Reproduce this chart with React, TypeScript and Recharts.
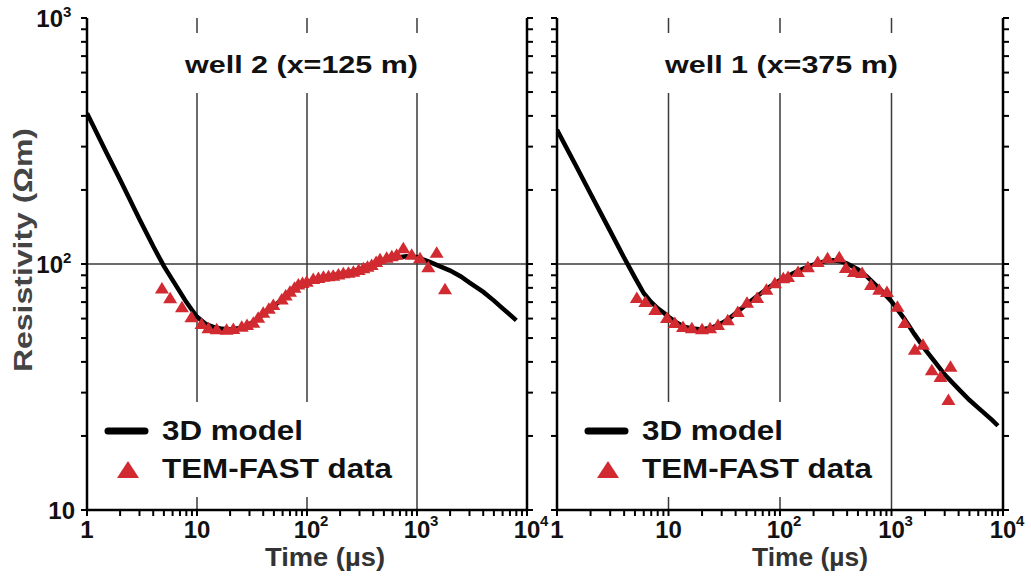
import React from 'react';
import { ComposedChart, Line, Scatter, XAxis, YAxis, ReferenceLine } from 'recharts';

// time axis (µs), log ticks
const xTicks = [
  1, 2, 3, 4, 5, 6, 7, 8, 9,
  10, 20, 30, 40, 50, 60, 70, 80, 90,
  100, 200, 300, 400, 500, 600, 700, 800, 900,
  1000, 2000, 3000, 4000, 5000, 6000, 7000, 8000, 9000,
  10000,
];
const xMajor = [1, 10, 100, 1000, 10000];
const xTickLabels = [['1', ''], ['10', ''], ['10', '2'], ['10', '3'], ['10', '4']];

// resistivity axis (Ωm)
const yTicks = [
  10, 20, 30, 40, 50, 60, 70, 80, 90,
  100, 200, 300, 400, 500, 600, 700, 800, 900,
  1000,
];
const yMajor = [10, 100, 1000];
const yTickLabels = [['10', ''], ['10', '2'], ['10', '3']];

const gridTimes = [10, 100, 1000];
const gridRes = [100];

// well 2 (x=125 m)
const well2ModelT = [1, 1.5, 2, 3, 4, 5, 6, 7, 8, 9, 10, 12, 14, 17, 20, 25, 30, 35, 40, 50, 60, 70, 80, 100, 130, 160, 200, 250, 300, 400, 500, 600, 800, 1000, 1300, 1600, 2000, 2500, 3000, 4000, 5000, 6000, 8000];
const well2ModelR = [410, 284, 220, 152, 118, 98, 86, 77, 70, 65, 61, 57, 55.5, 54.5, 54.2, 55, 57, 59.5, 62.5, 67.5, 72, 76, 79.5, 84, 87.5, 89.5, 91, 93, 95, 99, 103, 105.5, 107.5, 106.5, 102, 98, 94, 89, 84, 77, 71, 66, 59];
const well2DataT = [4.8, 5.7, 7.3, 8.9, 11, 12.7, 15.1, 18.6, 21.4, 25.5, 28.5, 32.5, 36, 40, 45, 49.4, 58.9, 64, 70, 77, 83.4, 91, 99.4, 114, 127, 141, 157, 173, 193, 214, 238, 264, 295, 325, 355, 387, 425, 461, 530, 590, 653, 751, 895, 1065, 1267, 1510, 1797];
const well2DataR = [79.6, 72.6, 66.7, 60.7, 57, 54.8, 54.3, 54, 54.4, 55.6, 56.5, 57.7, 60.5, 63.4, 65.8, 68.1, 71.8, 74.5, 77.1, 80, 82.6, 83.8, 84.7, 86.8, 87.8, 88.7, 89.2, 89.6, 90.6, 91.6, 92.2, 93, 94.5, 96, 97.5, 99, 102, 104.5, 106, 107.5, 109, 116, 109, 105.5, 97, 111, 78.9];

// well 1 (x=375 m)
const well1ModelT = [1, 1.5, 2, 3, 4, 5, 6, 7, 8, 9, 10, 12, 14, 17, 20, 25, 30, 35, 40, 50, 60, 70, 80, 100, 130, 160, 200, 250, 300, 350, 400, 500, 600, 800, 1000, 1300, 1600, 2000, 2500, 3000, 4000, 5000, 6000, 8000, 9000];
const well1ModelR = [351, 248, 193, 136, 106, 88, 76, 70, 66, 63.5, 61, 57.5, 55.5, 54.5, 54.2, 55.3, 57.5, 60, 63, 68.5, 73, 77, 80.5, 86, 91.5, 95.5, 99.5, 102.5, 103.5, 102.5, 100.5, 95, 89, 78.5, 70.5, 60, 52, 45, 39.5, 35.5, 31, 28, 26, 23.2, 22];
const well1DataT = [5.2, 6.2, 7.6, 9.7, 11.4, 13.5, 16.2, 20, 23.6, 27.8, 34, 41.8, 50.6, 62.3, 75.5, 90, 107, 118, 145, 178, 218, 267, 340, 390, 460, 545, 655, 775, 910, 1130, 1310, 1620, 1915, 2300, 2750, 3380, 3240];
const well1DataR = [72.8, 70, 65, 60.3, 57.5, 55.5, 54.8, 54.3, 54.8, 56.5, 59, 63.8, 69.6, 72.8, 78.5, 83.6, 87.6, 88.5, 92.7, 97, 101.8, 105.5, 106.5, 96.4, 92.7, 91.9, 82.2, 78.5, 77, 67, 57.5, 44.8, 47, 37, 34.7, 38.2, 28];

const toRows = (t: number[], r: number[]) => t.map((v, i) => ({ t: v, rho: r[i] }));

const FONT = '"Liberation Sans", Arial, Helvetica, sans-serif';
const RED = '#d12a30';

const XTick = (props: any) => {
  const { x, y, payload } = props;
  const i = xMajor.indexOf(payload.value);
  if (i < 0) return <g />;
  const [base, exp] = xTickLabels[i];
  return (
    <g fontFamily={FONT} fontWeight="bold" fill="#111">
      <text x={x} y={y + 20} textAnchor="middle" fontSize={24}>{base}</text>
      {exp && <text x={x + 13} y={y + 8} fontSize={15}>{exp}</text>}
    </g>
  );
};

const YTick = (props: any) => {
  const { x, y, payload } = props;
  const i = yMajor.indexOf(payload.value);
  if (i < 0) return <g />;
  const [base, exp] = yTickLabels[i];
  return (
    <g fontFamily={FONT} fontWeight="bold" fill="#111">
      <text x={exp ? x - 16 : x - 4} y={y + 9} textAnchor="end" fontSize={24}>{base}</text>
      {exp && <text x={x - 16} y={y - 1} fontSize={15}>{exp}</text>}
    </g>
  );
};

const NoTick = () => <g />;

const Triangle = (props: any) => {
  const { cx, cy } = props;
  if (cx == null || cy == null) return <g />;
  return <polygon points={`${cx - 7},${cy + 5} ${cx + 7},${cy + 5} ${cx},${cy - 6.5}`} fill={RED} />;
};

const axisLine = { stroke: '#000', strokeWidth: 2.5 };
const tickLine = { stroke: '#000', strokeWidth: 2 };

function Panel({ model, data, width, yWidth, right, labels }: any) {
  return (
    <ComposedChart width={width} height={578} margin={{ top: 18, right, bottom: 0, left: 0 }} style={{ overflow: 'visible' }}>
      <XAxis xAxisId="b" dataKey="t" type="number" scale="log" domain={[1, 10000]} allowDataOverflow
        ticks={xTicks} interval={0} height={68} tickSize={6} tick={<XTick />} axisLine={axisLine} tickLine={tickLine} />
      <XAxis xAxisId="top" orientation="top" dataKey="t" type="number" scale="log" domain={[1, 10000]} allowDataOverflow
        ticks={[1, 10000]} height={0} tick={false} tickLine={false} axisLine={axisLine} />
      <YAxis yAxisId="l" type="number" scale="log" domain={[10, 1000]} allowDataOverflow ticks={yTicks} interval={0}
        width={yWidth} tickSize={6} tick={labels ? <YTick /> : <NoTick />} axisLine={axisLine} tickLine={tickLine} />
      <YAxis yAxisId="r" orientation="right" type="number" scale="log" domain={[10, 1000]} allowDataOverflow ticks={yTicks}
        interval={0} width={8} tickSize={6} tick={<NoTick />} axisLine={axisLine} tickLine={tickLine} />
      {gridTimes.map((g) => (
        <ReferenceLine key={'x' + g} xAxisId="b" yAxisId="l" x={g} stroke="#3a3a3a" strokeWidth={1.5} />
      ))}
      {gridRes.map((g) => (
        <ReferenceLine key={'y' + g} xAxisId="b" yAxisId="l" y={g} stroke="#3a3a3a" strokeWidth={1.5} />
      ))}
      <Line xAxisId="b" yAxisId="l" data={model} dataKey="rho" type="linear" stroke="#000" strokeWidth={4.5}
        dot={false} isAnimationActive={false} />
      <Scatter xAxisId="b" yAxisId="l" data={data} dataKey="rho" shape={<Triangle />} isAnimationActive={false} />
    </ComposedChart>
  );
}

function LegendBox({ x }: { x: number }) {
  return (
    <g fontFamily={FONT} fontWeight="bold" fill="#111">
      <rect x={x} y={402} width={312} height={95} fill="#fff" />
      <line x1={x + 13} x2={x + 50} y1={431} y2={431} stroke="#000" strokeWidth={7} strokeLinecap="round" />
      <text x={x + 67} y={440} fontSize={27} textLength={141} lengthAdjust="spacingAndGlyphs">3D model</text>
      <polygon points={`${x + 22},${478} ${x + 44},${478} ${x + 33},${461}`} fill={RED} />
      <text x={x + 67} y={478} fontSize={27} textLength={230} lengthAdjust="spacingAndGlyphs">TEM-FAST data</text>
    </g>
  );
}

function TitleBox({ x, text }: { x: number; text: string }) {
  return (
    <g fontFamily={FONT} fontWeight="bold" fill="#111">
      <rect x={x - 8} y={33} width={250} height={60} fill="#fff" />
      <text x={x} y={73} fontSize={24} textLength={233} lengthAdjust="spacingAndGlyphs">{text}</text>
    </g>
  );
}

export default function App() {
  return (
    <div style={{ position: 'absolute', left: 0, top: 0, width: 1031, height: 578, background: '#fff', overflow: 'hidden' }}>
      <div style={{ position: 'absolute', left: 0, top: 0 }}>
        <Panel model={toRows(well2ModelT, well2ModelR)} data={toRows(well2DataT, well2DataR)} width={560} yWidth={87} right={25} labels />
      </div>
      <div style={{ position: 'absolute', left: 540, top: 0 }}>
        <Panel model={toRows(well1ModelT, well1ModelR)} data={toRows(well1DataT, well1DataR)} width={491} yWidth={17} right={20} labels={false} />
      </div>
      <svg width={1031} height={578} style={{ position: 'absolute', left: 0, top: 0, pointerEvents: 'none' }}>
        <TitleBox x={185} text="well 2 (x=125 m)" />
        <TitleBox x={665} text="well 1 (x=375 m)" />
        <LegendBox x={95} />
        <LegendBox x={575} />
        <text transform="translate(32,250) rotate(-90)" textAnchor="middle" fontFamily={FONT} fontWeight="bold"
          fontSize={25} fill="#444" textLength={244} lengthAdjust="spacingAndGlyphs">Resistivity (Ωm)</text>
        <g fontFamily={FONT} fontWeight="bold" fontSize={25} fill="#333">
          <text x={265} y={566} textLength={120} lengthAdjust="spacingAndGlyphs">Time (µs)</text>
          <text x={752} y={566} textLength={116} lengthAdjust="spacingAndGlyphs">Time (µs)</text>
        </g>
      </svg>
    </div>
  );
}
